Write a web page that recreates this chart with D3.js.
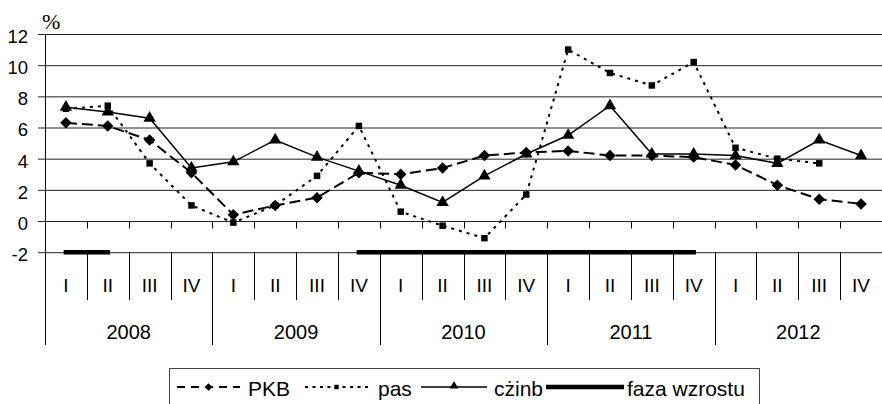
<!DOCTYPE html>
<html>
<head>
<meta charset="utf-8">
<script src="https://cdn.jsdelivr.net/npm/d3@7"></script>
<style>
  body { margin: 0; background: #fff; }
  text { font-family: "Liberation Sans", Arial, sans-serif; fill: #000; }
  text.unit { font-family: "Liberation Serif", "Times New Roman", serif; }
</style>
</head>
<body>
<div id="chart"></div>
<script>
(function () {

  // categories
  const years = ["2008", "2009", "2010", "2011", "2012"]
  const quarters = ["I", "II", "III", "IV"]
  const categories = years.flatMap(y => quarters.map(q => y + " " + q))

  // series values (%)
  const pkb   = [6.3, 6.1, 5.2, 3.1, 0.4, 1.0, 1.5, 3.1, 3.0, 3.4, 4.2, 4.4, 4.5, 4.2, 4.2, 4.1, 3.6, 2.3, 1.4, 1.1]
  const pas   = [7.2, 7.4, 3.7, 1.0, -0.1, 1.0, 2.9, 6.1, 0.6, -0.3, -1.1, 1.7, 11.0, 9.5, 8.7, 10.2, 4.7, 4.0, 3.7, null]
  const czinb = [7.3, 7.0, 6.6, 3.4, 3.8, 5.2, 4.1, 3.2, 2.3, 1.2, 2.9, 4.3, 5.5, 7.4, 4.3, 4.3, 4.2, 3.7, 5.2, 4.2]
  const faza  = [-2, -2, null, null, null, null, null, -2, -2, -2, -2, -2, -2, -2, -2, -2, null, null, null, null]

  const yTicks = [-2, 0, 2, 4, 6, 8, 10, 12]

  const width = 882
  const height = 404

  const svg = d3.select("#chart").append("svg")
    .attr("width", width)
    .attr("height", height)

  const x = d3.scaleBand()
    .domain(categories)
    .range([45, 882])
    .padding(0)

  const y = d3.scaleLinear()
    .domain([-2, 12])
    .range([252.2, 34])

  const cx = i => x(categories[i]) + x.bandwidth() / 2
  const bound = k => k < categories.length ? x(categories[k]) : x.range()[1]

  // gridlines + y tick labels
  const yAxis = d3.axisLeft(y)
    .tickValues(yTicks)
    .tickSize(-(882 - 38))
    .tickPadding(10)
    .tickFormat(d => d)

  const gy = svg.append("g")
    .attr("transform", "translate(38,0)")
    .call(yAxis)
  gy.select(".domain").remove()
  gy.selectAll(".tick line").attr("stroke", "#222")
  gy.selectAll(".tick text")
    .attr("font-size", 18.5)
    .attr("font-family", "Liberation Sans, Arial, sans-serif")
    .attr("fill", "#000")
    .attr("dy", "0.45em")

  // "%" unit
  svg.append("text")
    .attr("class", "unit")
    .attr("x", 42)
    .attr("y", 29)
    .attr("font-size", 22)
    .text("%")

  // vertical axis line, running down through the category labels
  svg.append("line")
    .attr("x1", 45.5).attr("x2", 45.5)
    .attr("y1", y(12)).attr("y2", 345)
    .attr("stroke", "#000")

  // small tick marks below the zero line
  svg.append("g")
    .selectAll("line")
    .data(d3.range(1, categories.length))
    .join("line")
    .attr("x1", k => Math.round(bound(k)) + 0.5)
    .attr("x2", k => Math.round(bound(k)) + 0.5)
    .attr("y1", Math.round(y(0)) + 0.5)
    .attr("y2", Math.round(y(0)) + 7.5)
    .attr("stroke", "#000")

  // category separators under the -2 line
  svg.append("g")
    .selectAll("line")
    .data(d3.range(1, categories.length + 1))
    .join("line")
    .attr("x1", k => Math.round(bound(k)) + 0.5)
    .attr("x2", k => Math.round(bound(k)) + 0.5)
    .attr("y1", y(-2))
    .attr("y2", k => k % 4 === 0 ? 345 : 300)
    .attr("stroke", "#000")

  // quarter labels
  svg.append("g")
    .selectAll("text")
    .data(categories)
    .join("text")
    .attr("x", d => x(d) + x.bandwidth() / 2)
    .attr("y", 292)
    .attr("text-anchor", "middle")
    .attr("font-size", 19)
    .text(d => d.split(" ")[1])

  // year labels
  svg.append("g")
    .selectAll("text")
    .data(years)
    .join("text")
    .attr("x", d => x(d + " I") + x.bandwidth() * 2)
    .attr("y", 339)
    .attr("text-anchor", "middle")
    .attr("font-size", 20)
    .text(d => d)

  const line = d3.line()
    .defined(d => d != null)
    .x((d, i) => cx(i))
    .y(d => y(d))

  // faza wzrostu
  svg.append("path")
    .datum(faza)
    .attr("d", line)
    .attr("fill", "none")
    .attr("stroke", "#000")
    .attr("stroke-width", 4.5)
    .attr("stroke-linecap", "square")

  // pas
  svg.append("path")
    .datum(pas)
    .attr("d", line)
    .attr("fill", "none")
    .attr("stroke", "#000")
    .attr("stroke-width", 2)
    .attr("stroke-dasharray", "3,5")

  svg.append("g")
    .selectAll("path")
    .data(pas.map((v, i) => [v, i]).filter(d => d[0] != null))
    .join("path")
    .attr("d", d3.symbol(d3.symbolSquare, 42))
    .attr("transform", d => "translate(" + cx(d[1]) + "," + y(d[0]) + ")")
    .attr("fill", "#000")

  // PKB
  svg.append("path")
    .datum(pkb)
    .attr("d", line)
    .attr("fill", "none")
    .attr("stroke", "#000")
    .attr("stroke-width", 2)
    .attr("stroke-dasharray", "11,5")

  svg.append("g")
    .selectAll("path")
    .data(pkb)
    .join("path")
    .attr("d", d3.symbol(d3.symbolSquare, 66))
    .attr("transform", (d, i) => "translate(" + cx(i) + "," + y(d) + ") rotate(45)")
    .attr("fill", "#000")

  // cżinb
  svg.append("path")
    .datum(czinb)
    .attr("d", line)
    .attr("fill", "none")
    .attr("stroke", "#000")
    .attr("stroke-width", 1.5)

  svg.append("g")
    .selectAll("path")
    .data(czinb)
    .join("path")
    .attr("d", d3.symbol(d3.symbolTriangle, 66))
    .attr("transform", (d, i) => "translate(" + cx(i) + "," + y(d) + ")")
    .attr("fill", "#000")

  // legend
  const lg = svg.append("g")
  lg.append("rect")
    .attr("x", 169.5).attr("y", 368.5)
    .attr("width", 590).attr("height", 45)
    .attr("fill", "#fff")
    .attr("stroke", "#444")

  const ly = 387
  const legendItems = [
    { name: "PKB", x1: 177, x2: 240, dash: "8,6", w: 2, sym: "diamond", tx: 248 },
    { name: "pas", x1: 305, x2: 368, dash: "3,4.5", w: 2, sym: "square", tx: 378 },
    { name: "cżinb", x1: 421, x2: 487, dash: null, w: 1.5, sym: "triangle", tx: 494 },
    { name: "faza wzrostu", x1: 546, x2: 624, dash: null, w: 4.5, sym: null, tx: 627 }
  ]

  legendItems.forEach(d => {
    lg.append("line")
      .attr("x1", d.x1).attr("x2", d.x2)
      .attr("y1", ly).attr("y2", ly)
      .attr("stroke", "#000")
      .attr("stroke-width", d.w)
      .attr("stroke-dasharray", d.dash)
    const mx = (d.x1 + d.x2) / 2
    if (d.sym === "diamond") {
      lg.append("path")
        .attr("d", d3.symbol(d3.symbolSquare, 30))
        .attr("transform", "translate(" + mx + "," + ly + ") rotate(45)")
    } else if (d.sym === "square") {
      lg.append("path")
        .attr("d", d3.symbol(d3.symbolSquare, 20))
        .attr("transform", "translate(" + mx + "," + ly + ")")
    } else if (d.sym === "triangle") {
      lg.append("path")
        .attr("d", d3.symbol(d3.symbolTriangle, 34))
        .attr("transform", "translate(" + mx + "," + (ly - 1) + ")")
    }
    lg.append("text")
      .attr("x", d.tx)
      .attr("y", 396)
      .attr("font-size", 21)
      .text(d.name)
  })

})();
</script>
</body>
</html>
